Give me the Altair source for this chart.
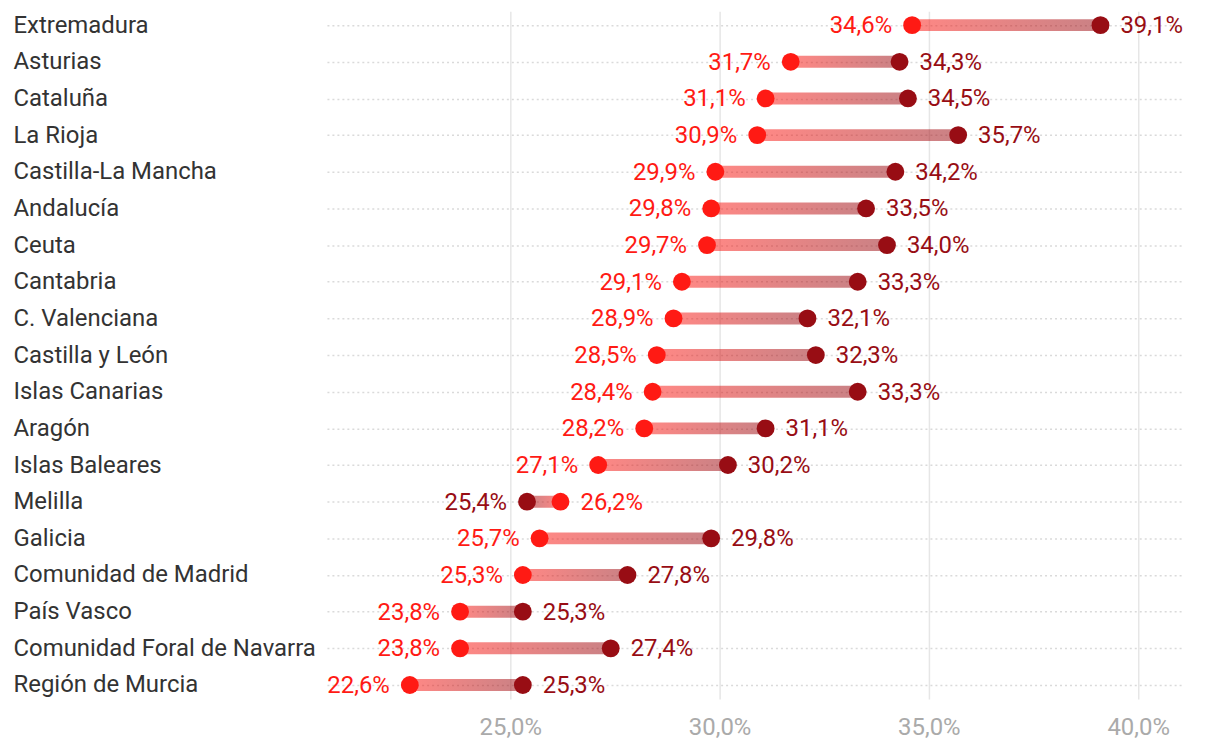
import altair as alt
import pandas as pd

regions = ["Extremadura", "Asturias", "Cataluña", "La Rioja", "Castilla-La Mancha",
           "Andalucía", "Ceuta", "Cantabria", "C. Valenciana", "Castilla y León",
           "Islas Canarias", "Aragón", "Islas Baleares", "Melilla", "Galicia",
           "Comunidad de Madrid", "País Vasco", "Comunidad Foral de Navarra",
           "Región de Murcia"]
bright = [34.6, 31.7, 31.1, 30.9, 29.9, 29.8, 29.7, 29.1, 28.9, 28.5, 28.4, 28.2,
          27.1, 26.2, 25.7, 25.3, 23.8, 23.8, 22.6]
dark = [39.1, 34.3, 34.5, 35.7, 34.2, 33.5, 34.0, 33.3, 32.1, 32.3, 33.3, 31.1,
        30.2, 25.4, 29.8, 27.8, 25.3, 27.4, 25.3]
x_ticks = [25, 30, 35, 40]

BRIGHT = "#ff1a14"
DARK = "#980d14"


def fmt(v):
    return f"{v:.1f}".replace(".", ",") + "%"


rows = []
for r, b, d in zip(regions, bright, dark):
    if b <= d:
        rows.append(dict(region=r, lo=b, hi=d, lo_label=fmt(b), hi_label=fmt(d),
                         lo_s="bright", hi_s="dark", dir="up", bright=b, dark=d))
    else:
        rows.append(dict(region=r, lo=d, hi=b, lo_label=fmt(d), hi_label=fmt(b),
                         lo_s="dark", hi_s="bright", dir="down", bright=b, dark=d))
df = pd.DataFrame(rows)

y_enc = alt.Y("region:N", sort=regions, title=None,
              scale=alt.Scale(type="point", padding=0.38))
xscale = alt.Scale(domain=[20.62, 41.05], nice=False, zero=False)
xaxis = alt.Axis(values=x_ticks, labelExpr="replace(format(datum.value, '.1f'), '.', ',') + '%'")
color_scale = alt.Scale(domain=["bright", "dark"], range=[BRIGHT, DARK])

grad_up = alt.Gradient(gradient="linear",
                       stops=[alt.GradientStop(color=BRIGHT, offset=0),
                              alt.GradientStop(color=DARK, offset=1)],
                       x1=0, x2=1, y1=0, y2=0)
grad_down = alt.Gradient(gradient="linear",
                         stops=[alt.GradientStop(color=DARK, offset=0),
                                alt.GradientStop(color=BRIGHT, offset=1)],
                         x1=0, x2=1, y1=0, y2=0)

base = alt.Chart(df)

bar_up = base.transform_filter("datum.dir == 'up'").mark_bar(
    height=12, color=grad_up, opacity=0.52).encode(
    x=alt.X("lo:Q", scale=xscale, axis=xaxis, title=None), x2="hi:Q", y=y_enc)
bar_down = base.transform_filter("datum.dir == 'down'").mark_bar(
    height=12, color=grad_down, opacity=0.52).encode(
    x=alt.X("lo:Q", scale=xscale, axis=xaxis, title=None), x2="hi:Q", y=y_enc)

dot_dark = base.mark_circle(size=320, opacity=1, color=DARK).encode(
    x=alt.X("dark:Q", scale=xscale, axis=xaxis, title=None), y=y_enc)
dot_bright = base.mark_circle(size=320, opacity=1, color=BRIGHT).encode(
    x=alt.X("bright:Q", scale=xscale, axis=xaxis, title=None), y=y_enc)

txt_left = base.mark_text(align="right", baseline="middle", dx=-20, dy=1, fontSize=24,
                          font="Roboto").encode(
    x=alt.X("lo:Q", scale=xscale, axis=xaxis, title=None), y=y_enc,
    text="lo_label:N",
    color=alt.Color("lo_s:N", scale=color_scale, legend=None))
txt_right = base.mark_text(align="left", baseline="middle", dx=20, dy=1, fontSize=24,
                           font="Roboto").encode(
    x=alt.X("hi:Q", scale=xscale, axis=xaxis, title=None), y=y_enc,
    text="hi_label:N",
    color=alt.Color("hi_s:N", scale=color_scale, legend=None))

chart = alt.layer(bar_up, bar_down, dot_dark, dot_bright, txt_left, txt_right).properties(
    width=858, height=690,
    autosize=alt.AutoSizeParams(type="none"),
    padding={"left": 320, "top": 2, "right": 30, "bottom": 40},
).configure_view(stroke=None).configure_axisX(
    grid=True, gridColor="#e6e6e6", gridWidth=1.5, domain=False, ticks=False,
    labelFont="Roboto", labelFontSize=24, labelColor="#aaaaaa", labelPadding=17,
).configure_axisY(
    grid=True, gridColor="#dadada", gridDash=[2, 3], gridWidth=1.5, domain=False,
    ticks=False, labelAlign="left", labelPadding=315, labelLimit=0,
    labelFont="Roboto", labelFontSize=24, labelColor="#333333",
)

chart.save("out.html", embed_options={"renderer": "svg", "actions": False})
